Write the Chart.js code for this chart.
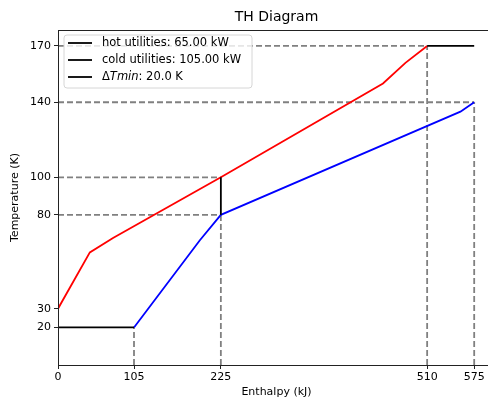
<!DOCTYPE html>
<html>
<head>
<meta charset="utf-8">
<script src="https://cdn.jsdelivr.net/npm/chart.js@4.4.0/dist/chart.umd.min.js"></script>
<style>
  html, body { margin: 0; padding: 0; background: #fff; overflow: hidden; }
  #wrap { width: 500px; height: 400px; }
</style>
</head>
<body>
<div id="wrap"><canvas id="th-chart" width="500" height="400"></canvas></div>
<script>
// hot composite curve (red)
var hotH = [0, 44, 76, 225, 449, 480, 510];
var hotT = [30, 60, 67.7, 100, 150, 161, 170];
// cold composite curve (blue)
var coldH = [105, 196, 225, 556, 575];
var coldT = [20, 66.5, 80, 135, 140];
// utilities and pinch
var hotUtilH = [510, 575], hotUtilT = [170, 170];
var coldUtilH = [0, 105], coldUtilT = [20, 20];
var pinchH = [225, 225], pinchT = [80, 100];
// dashed guide lines
var guideTemps = [170, 140, 100, 80];
var guideTempEnds = [510, 575, 225, 225];
var guideEnth = [105, 225, 510, 575];
var guideEnthTops = [20, 80, 170, 140];
// ticks
var xTicks = [0, 105, 225, 510, 575];
var yTicks = [20, 30, 80, 100, 140, 170];
var legendLabels = ['hot utilities: 65.00 kW', 'cold utilities: 105.00 kW', 'ΔTmin: 20.0 K'];

var FONT = 'DejaVu Sans';
var LW = 1.8;

function pts(xs, ys) {
    return xs.map(function (x, i) { return { x: x, y: ys[i] }; });
}

var datasets = [];
guideTemps.forEach(function (t, i) {
    datasets.push({ data: pts([0, guideTempEnds[i]], [t, t]), borderColor: '#808080', borderDash: [6, 3], borderWidth: LW, order: 5 });
});
guideEnth.forEach(function (h, i) {
    datasets.push({ data: pts([h, h], [0, guideEnthTops[i]]), borderColor: '#808080', borderDash: [6, 3], borderWidth: LW, order: 5 });
});
datasets.push({ data: pts(hotH, hotT), borderColor: '#ff0000', borderWidth: LW, order: 2 });
datasets.push({ data: pts(coldH, coldT), borderColor: '#0000ff', borderWidth: LW, order: 2 });
datasets.push({ data: pts(hotUtilH, hotUtilT), borderColor: '#000', borderWidth: LW, order: 1 });
datasets.push({ data: pts(coldUtilH, coldUtilT), borderColor: '#000', borderWidth: LW, order: 1 });
datasets.push({ data: pts(pinchH, pinchT), borderColor: '#000', borderWidth: LW, order: 1 });

var framePlugin = {
    id: 'frame',
    afterDraw: function (chart) {
        var c = chart.ctx, a = chart.chartArea;
        c.save();
        // title
        c.fillStyle = '#000';
        c.font = '14px "' + FONT + '"';
        c.textAlign = 'center';
        c.textBaseline = 'middle';
        c.fillText('TH Diagram', (a.left + a.right) / 2, 17);
        // axes box
        c.strokeStyle = '#222';
        c.lineWidth = 1;
        c.strokeRect(a.left + 0.5, a.top + 0.5, a.right - a.left, a.bottom - a.top);
        // legend
        var lx = 64, ly = 35, lw = 188, lh = 53, r = 3;
        c.beginPath();
        c.moveTo(lx + r, ly);
        c.arcTo(lx + lw, ly, lx + lw, ly + lh, r);
        c.arcTo(lx + lw, ly + lh, lx, ly + lh, r);
        c.arcTo(lx, ly + lh, lx, ly, r);
        c.arcTo(lx, ly, lx + lw, ly, r);
        c.closePath();
        c.fillStyle = 'rgba(255,255,255,0.8)';
        c.fill();
        c.strokeStyle = '#d6d6d6';
        c.stroke();
        c.font = '11.5px "' + FONT + '"';
        c.textAlign = 'left';
        legendLabels.forEach(function (lab, i) {
            var y = 43 + i * 17;
            c.strokeStyle = '#000';
            c.lineWidth = LW;
            c.beginPath();
            c.moveTo(68, y);
            c.lineTo(92, y);
            c.stroke();
            c.fillStyle = '#000';
            if (lab.indexOf('ΔTmin') === 0) {
                var x = 102;
                c.fillText('Δ', x, y);
                x += c.measureText('Δ').width;
                c.font = 'italic 11.5px "' + FONT + '"';
                c.fillText('Tmin', x, y);
                x += c.measureText('Tmin').width;
                c.font = '11.5px "' + FONT + '"';
                c.fillText(lab.slice(5), x, y);
            } else {
                c.fillText(lab, 102, y);
            }
        });
        c.restore();
    }
};

new Chart(document.getElementById('th-chart'), {
    type: 'scatter',
    data: { datasets: datasets },
    options: {
        responsive: false,
        animation: false,
        devicePixelRatio: 1,
        showLine: true,
        elements: { point: { radius: 0 }, line: { tension: 0, borderCapStyle: 'butt' } },
        layout: { padding: { left: 0, top: 30, right: 5, bottom: 0 } },
        plugins: { legend: { display: false }, tooltip: { enabled: false } },
        scales: {
            x: {
                type: 'linear',
                min: 0,
                max: 603.75,
                afterBuildTicks: function (s) { s.ticks = xTicks.map(function (v) { return { value: v }; }); },
                afterFit: function (s) { s.height = 35; },
                grid: { drawOnChartArea: false, tickLength: 4, color: '#222' },
                border: { display: false },
                ticks: { color: '#000', font: { family: FONT, size: 11 }, padding: 2, maxRotation: 0, autoSkip: false },
                title: { display: true, text: 'Enthalpy (kJ)', color: '#000', font: { family: FONT, size: 11 }, padding: { top: 0, bottom: 1 } }
            },
            y: {
                type: 'linear',
                min: 0,
                max: 178.5,
                afterBuildTicks: function (s) { s.ticks = yTicks.map(function (v) { return { value: v }; }); },
                afterFit: function (s) { s.width = 58; },
                grid: { drawOnChartArea: false, tickLength: 4, color: '#222' },
                border: { display: false },
                ticks: { color: '#000', font: { family: FONT, size: 11 }, padding: 3, autoSkip: false },
                title: { display: true, text: 'Temperature (K)', color: '#000', font: { family: FONT, size: 11 }, padding: { top: 9, bottom: 0 } }
            }
        }
    },
    plugins: [framePlugin]
});
</script>
</body>
</html>
